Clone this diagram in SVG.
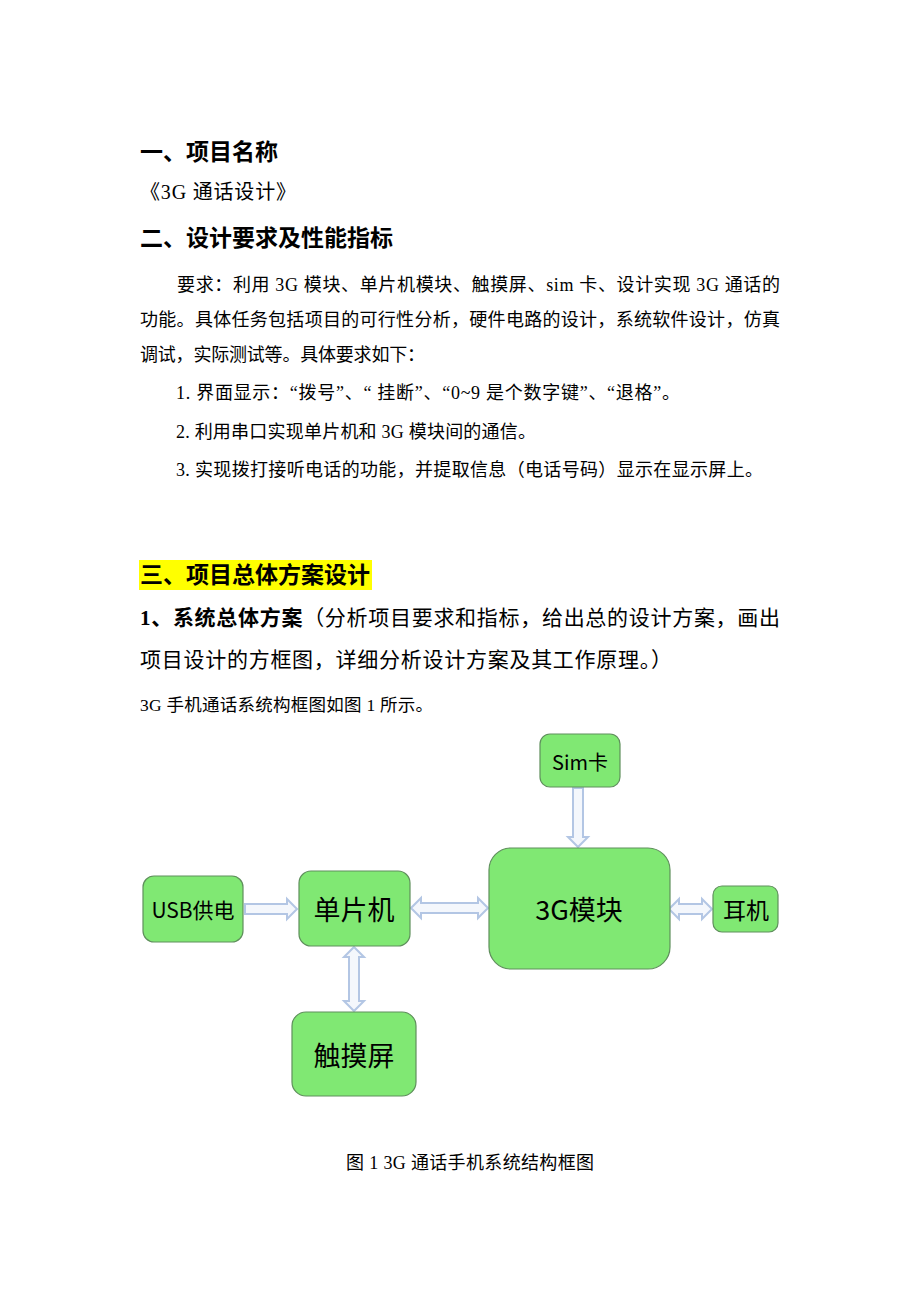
<svg xmlns="http://www.w3.org/2000/svg" width="920" height="1302" viewBox="0 0 920 1302">
<style>
.h{font-family:"Noto Sans CJK SC","Liberation Sans",sans-serif;font-weight:bold;font-size:23px;fill:#000}
.b{font-family:"Liberation Serif","Noto Sans CJK SC",serif;font-size:18px;fill:#000}
.m{font-family:"Liberation Serif","Noto Sans CJK SC",serif;font-size:21px;fill:#000}
.s{font-family:"Liberation Serif","Noto Sans CJK SC",serif;font-size:17.5px;fill:#000}
.node{fill:#80e873;stroke:#5f8f5c;stroke-width:1.2}
.lbl{font-family:"Noto Sans CJK SC","Liberation Sans",sans-serif;fill:#000;text-anchor:middle;dominant-baseline:central}
.arr{fill:#f4f7fc;stroke:#b3c6e4;stroke-width:2;stroke-linejoin:miter}
</style>
<rect width="920" height="1302" fill="#fff"/>
<g id="text">
<text class="h" x="140" y="160">一、项目名称</text>
<text class="b" x="140" y="199" style="font-size:20px" textLength="156" lengthAdjust="spacing">《3G 通话设计》</text>
<text class="h" x="140" y="246">二、设计要求及性能指标</text>
<text class="b" x="177" y="291" textLength="603" lengthAdjust="spacing">要求：利用 3G 模块、单片机模块、触摸屏、sim 卡、设计实现 3G 通话的</text>
<text class="b" x="140" y="326" textLength="640" lengthAdjust="spacing">功能。具体任务包括项目的可行性分析，硬件电路的设计，系统软件设计，仿真</text>
<text class="b" x="140" y="361" textLength="285" lengthAdjust="spacing">调试，实际测试等。具体要求如下：</text>
<text class="b" x="176" y="399" textLength="504" lengthAdjust="spacing">1. 界面显示：“拨号”、“  挂断”、“0~9 是个数字键”、“退格”。</text>
<text class="b" x="176" y="438" textLength="360" lengthAdjust="spacing">2. 利用串口实现单片机和 3G 模块间的通信。</text>
<text class="b" x="176" y="476" textLength="587" lengthAdjust="spacing">3. 实现拨打接听电话的功能，并提取信息（电话号码）显示在显示屏上。</text>
<rect x="139" y="560" width="233" height="30" fill="#ffff00"/>
<text class="h" x="140" y="583">三、项目总体方案设计</text>
<text class="m" x="140" y="625" textLength="640" lengthAdjust="spacing"><tspan font-weight="bold">1、系统总体方案</tspan>（分析项目要求和指标，给出总的设计方案，画出</text>
<text class="m" x="140" y="667" textLength="532" lengthAdjust="spacing">项目设计的方框图，详细分析设计方案及其工作原理。）</text>
<text class="s" x="140" y="711" textLength="293" lengthAdjust="spacing">3G 手机通话系统构框图如图 1 所示。</text>
<text class="s" x="346" y="1169" style="font-size:18px" textLength="248" lengthAdjust="spacing">图 1 3G 通话手机系统结构框图</text>
</g>
<g id="connectors">
<path class="arr" d="M245,904 L287,904 L287,899 L297,909 L287,919 L287,914 L245,914 Z"/>
<path class="arr" d="M411,908 L421,898 L421,903 L478,903 L478,898 L488,908 L478,918 L478,913 L421,913 L421,918 Z"/>
<path class="arr" d="M669,909 L679,899 L679,904 L702,904 L702,899 L712,909 L702,919 L702,914 L679,914 L679,919 Z"/>
<path class="arr" d="M573,788 L583,788 L583,837 L588,837 L578,847 L568,837 L573,837 Z"/>
<path class="arr" d="M354,947 L364,957 L359,957 L359,1001 L364,1001 L354,1011 L344,1001 L349,1001 L349,957 L344,957 Z"/>
</g>
<g id="sim">
<rect class="node" x="540" y="734" width="80" height="53" rx="10"/>
<text class="lbl" x="580" y="761" font-size="20">Sim卡</text>
</g>
<g id="module3g">
<rect class="node" x="489" y="848" width="181" height="121" rx="22"/>
<text class="lbl" x="579" y="908" font-size="27">3G模块</text>
</g>
<g id="usb">
<rect class="node" x="143" y="876" width="100" height="66" rx="11"/>
<text class="lbl" x="193" y="909" font-size="21">USB供电</text>
</g>
<g id="mcu">
<rect class="node" x="299" y="871" width="111" height="75" rx="12"/>
<text class="lbl" x="354" y="908" font-size="27">单片机</text>
</g>
<g id="earphone">
<rect class="node" x="713" y="886" width="65" height="46" rx="9"/>
<text class="lbl" x="746" y="909" font-size="23">耳机</text>
</g>
<g id="touch">
<rect class="node" x="292" y="1012" width="124" height="84" rx="14"/>
<text class="lbl" x="354" y="1054" font-size="27">触摸屏</text>
</g>
</svg>
